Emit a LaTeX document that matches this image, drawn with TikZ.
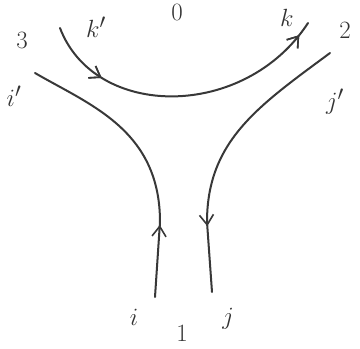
\documentclass[tikz,border=0pt]{standalone}
\usetikzlibrary{arrows.meta,decorations.markings}
\begin{document}
\begin{tikzpicture}[x=1pt,y=-1pt,
  strand/.style={line width=2pt,draw=black!78,line cap=round},
  lbl/.style={font=\fontsize{30}{34}\selectfont,text=black!80,inner sep=0pt},
  midarrow/.style={postaction={decorate},decoration={markings,
     mark=at position #1 with {\arrow{Straight Barb[length=10pt,width=14pt,line width=1.6pt]}}}}]
\useasboundingbox (0,0) rectangle (360,349);
% end points
\coordinate (kp) at (60,28);
\coordinate (k) at (308,23);
\coordinate (ip) at (35,73);
\coordinate (i) at (155,297);
\coordinate (jp) at (330,53);
\coordinate (j) at (212,292);
\coordinate (iup) at (160,222);
\coordinate (jdn) at (207,222);
% strands
\draw[strand,midarrow=0.22,midarrow=0.95] (kp) .. controls (95,120) and (245,120) .. (k);
\draw[strand,midarrow=0.96] (i) -- (iup);
\draw[strand] (iup) .. controls (160,130) and (90,105) .. (ip);
\draw[strand] (jp) .. controls (260,105) and (207,140) .. (jdn);
\draw[strand,midarrow=0.06] (jdn) -- (j);
% labels
\node[lbl] (l3) at (22,40) {$3$};
\node[lbl] (lkp) at (96,27) {$k'$};
\node[lbl] (l0) at (177,12) {$0$};
\node[lbl] (lk) at (287,18) {$k$};
\node[lbl] (l2) at (345,30) {$2$};
\node[lbl] (lip) at (14,96) {$i'$};
\node[lbl] (ljp) at (335,102) {$j'$};
\node[lbl] (li) at (134,317) {$i$};
\node[lbl] (l1) at (182,333) {$1$};
\node[lbl] (lj) at (228,319) {$j$};
\end{tikzpicture}
\end{document}
